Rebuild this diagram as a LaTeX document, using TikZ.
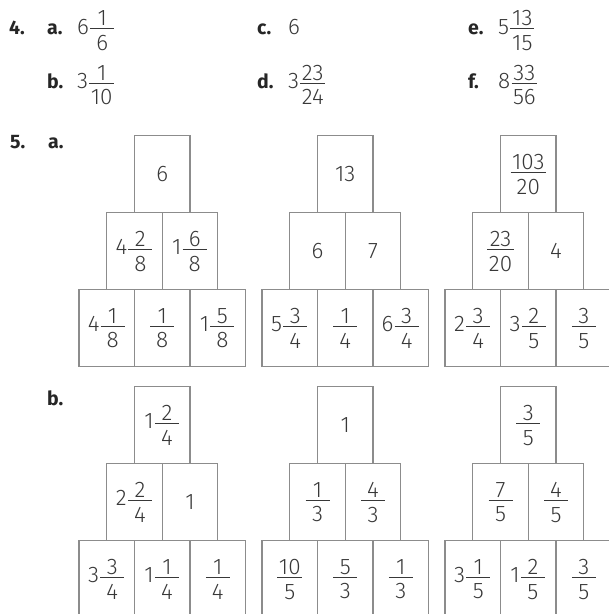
\documentclass[tikz,border=0pt]{standalone}
\usepackage{amsmath}
\usepackage{fontspec}
\setmainfont{Fira Sans Light}[BoldFont={Fira Sans Bold}]

\definecolor{boxgray}{gray}{0.55}
\definecolor{numgray}{gray}{0.22}

% fraction with a bar at least 24pt long
\newlength{\frwd}
\newlength{\frwdb}
\newcommand*{\fr}[2]{%
	\settowidth{\frwd}{#1}\settowidth{\frwdb}{#2}%
	\ifdim\frwdb>\frwd \setlength{\frwd}{\frwdb}\fi
	\addtolength{\frwd}{3pt}%
	\ifdim\frwd<24pt \setlength{\frwd}{24pt}\fi
	\ensuremath{\genfrac{}{}{1.1pt}{1}{\makebox[\frwd]{#1}}{\makebox[\frwd]{\rule{0pt}{20pt}#2}}}}

% one pyramid: name, centre x, top y, top, middle row, bottom row
\newcommand*{\pyramid}[9]{
	\node[box,anchor=north] (#1t) at (#2,#3) {#4};
	\node[box,anchor=north east] (#1m1) at (#1t.south) {#5};
	\node[box,anchor=north west] (#1m2) at (#1t.south) {#6};
	\node[box,anchor=north] (#1b2) at (#1m1.south east) {#8};
	\node[box,anchor=north east] (#1b1) at (#1b2.north west) {#7};
	\node[box,anchor=north west] (#1b3) at (#1b2.north east) {#9};
}

\begin{document}
\begin{tikzpicture}[x=1pt,y=-1pt,
	box/.style={draw=boxgray,line width=1.3pt,minimum width=55.5pt,minimum height=77pt,inner sep=0pt,outer sep=0pt,text=numgray,font=\fontsize{22.5}{26}\selectfont},
	lbl/.style={anchor=base west,inner sep=0pt,font=\bfseries\fontsize{19.5}{22}\selectfont,text=black!85},
	num/.style={anchor=base west,inner sep=0pt,text=numgray,font=\fontsize{22.5}{26}\selectfont}]

	\useasboundingbox (0,0) rectangle (609,614);

	% question 4
	\node[lbl] (q4) at (9,34) {4.};
	\node[lbl] (q4a) at (47,34) {a.};
	\node[num] (q4aval) at (77,34) {6\fr{1}{6}};
	\node[lbl] (q4b) at (47,88.5) {b.};
	\node[num] (q4bval) at (77,88.5) {3\fr{1}{10}};
	\node[lbl] (q4c) at (257,34) {c.};
	\node[num] (q4cval) at (288,34) {6};
	\node[lbl] (q4d) at (257,88.5) {d.};
	\node[num] (q4dval) at (288,88.5) {3\fr{23}{24}};
	\node[lbl] (q4e) at (468,34) {e.};
	\node[num] (q4eval) at (498,34) {5\fr{13}{15}};
	\node[lbl] (q4f) at (468,88.5) {f.};
	\node[num] (q4fval) at (498,88.5) {8\fr{33}{56}};

	% question 5
	\node[lbl] (q5) at (10,148.5) {5.};
	\node[lbl] (q5a) at (48,148.5) {a.};
	\node[lbl] (q5b) at (47,405) {b.};

	\pyramid{pa}{162.3}{135.7}{6}{4\fr{2}{8}}{1\fr{6}{8}}{4\fr{1}{8}}{\fr{1}{8}}{1\fr{5}{8}}
	\pyramid{pb}{345.3}{135.7}{13}{6}{7}{5\fr{3}{4}}{\fr{1}{4}}{6\fr{3}{4}}
	\pyramid{pc}{528.3}{135.7}{\fr{103}{20}}{\fr{23}{20}}{4}{2\fr{3}{4}}{3\fr{2}{5}}{\fr{3}{5}}

	\pyramid{pd}{162.3}{386.7}{1\fr{2}{4}}{2\fr{2}{4}}{1}{3\fr{3}{4}}{1\fr{1}{4}}{\fr{1}{4}}
	\pyramid{pe}{345.3}{386.7}{1}{\fr{1}{3}}{\fr{4}{3}}{\fr{10}{5}}{\fr{5}{3}}{\fr{1}{3}}
	\pyramid{pf}{528.3}{386.7}{\fr{3}{5}}{\fr{7}{5}}{\fr{4}{5}}{3\fr{1}{5}}{1\fr{2}{5}}{\fr{3}{5}}

\end{tikzpicture}
\end{document}
